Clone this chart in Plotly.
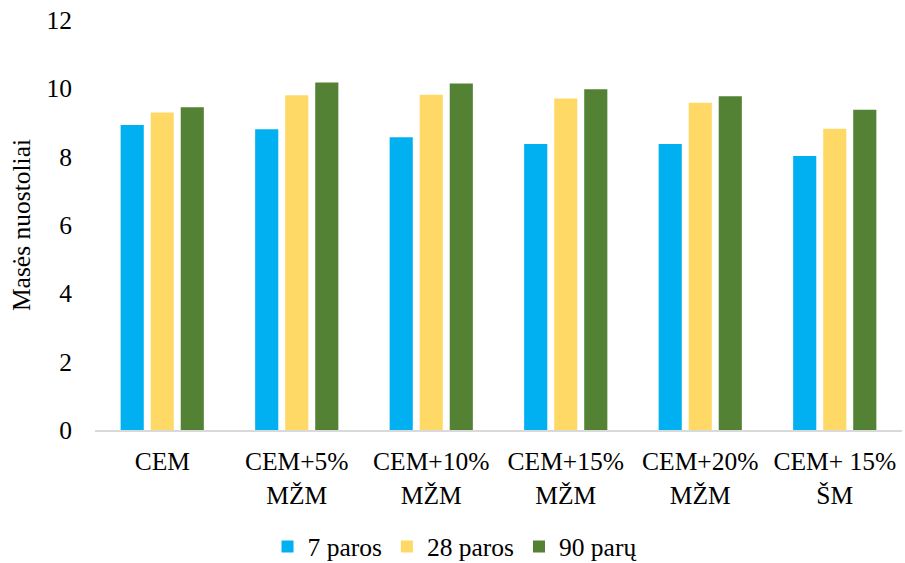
import plotly.graph_objects as go

categories = ["CEM", "CEM+5%<br>MŽM", "CEM+10%<br>MŽM", "CEM+15%<br>MŽM", "CEM+20%<br>MŽM", "CEM+ 15%<br>ŠM"]
series_names = ["7 paros", "28 paros", "90 parų"]
v7 = [8.93, 8.80, 8.57, 8.37, 8.37, 8.02]
v28 = [9.29, 9.80, 9.81, 9.70, 9.58, 8.82]
v90 = [9.45, 10.17, 10.14, 9.97, 9.77, 9.37]
colors = ["#00B0F0", "#FFD966", "#548235"]
y_ticks = [0, 2, 4, 6, 8, 10, 12]

fig = go.Figure()
for name, vals, c in zip(series_names, [v7, v28, v90], colors):
    fig.add_trace(go.Bar(x=categories, y=vals, name=name, marker=dict(color=c, line=dict(width=0))))

font = "Liberation Serif"
fs = 25.5
fig.update_layout(
    barmode="group",
    bargap=0.33,
    bargroupgap=0.23,
    width=905, height=563,
    margin=dict(l=95, r=3, t=20, b=133, autoexpand=False),
    plot_bgcolor="white", paper_bgcolor="white",
    font=dict(family=font, size=fs, color="#000000"),
    showlegend=True,
    legend=dict(orientation="h", x=0.4455, xanchor="center", y=-0.285, yanchor="middle",
                font=dict(family=font, size=fs), itemwidth=30, traceorder="normal"),
    xaxis=dict(showline=True, linecolor="#D9D9D9", linewidth=1.5, ticks="", showgrid=False,
               automargin=False,
               tickfont=dict(family=font, size=fs), ticklabelstandoff=8),
    yaxis=dict(range=[0, 12], tickvals=y_ticks, showgrid=False, zeroline=False, showline=False,
               ticks="", tickfont=dict(family=font, size=fs), ticklabelstandoff=22,
               ticklabeloverflow="allow", automargin=False,
               title=dict(text="Masės nuostoliai", font=dict(family=font, size=fs), standoff=8)),
)
fig.write_html("out.html", config={"displayModeBar": False},
               post_script="document.body.style.margin='0';document.body.style.overflow='hidden';")
